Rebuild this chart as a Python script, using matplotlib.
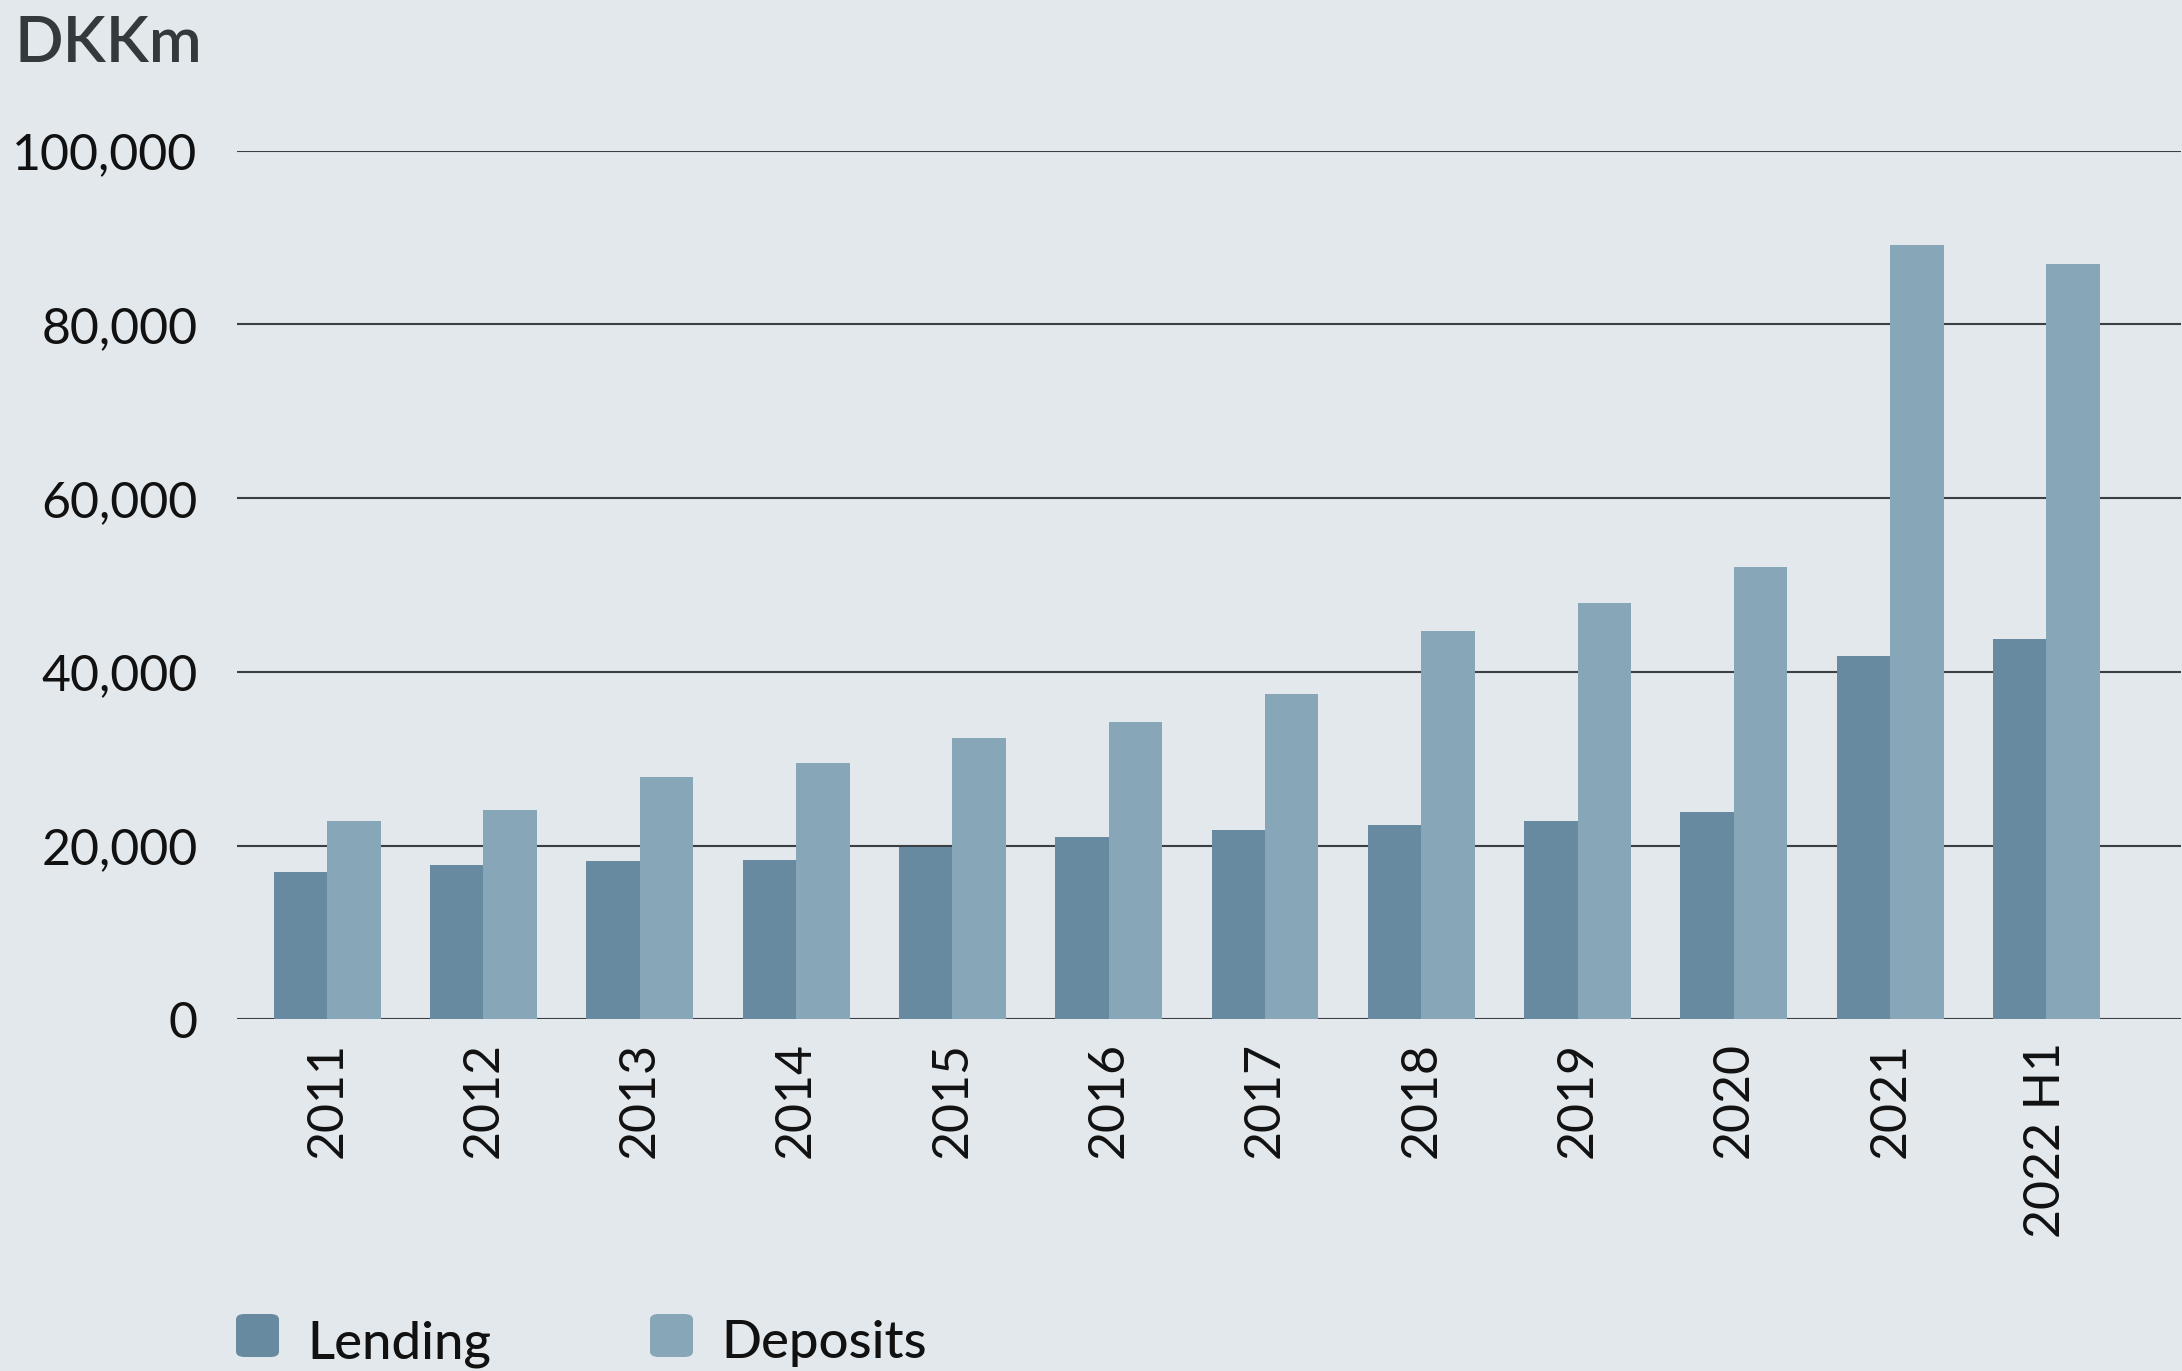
import numpy as np
import matplotlib
matplotlib.use("Agg")
from matplotlib import pyplot as plt
from matplotlib.patches import FancyBboxPatch

# data (DKKm)
years = ["2011", "2012", "2013", "2014", "2015", "2016", "2017", "2018", "2019", "2020", "2021", "2022 H1"]
lending = [17000, 17800, 18200, 18400, 19900, 21000, 21800, 22400, 22900, 23900, 41800, 43800]
deposits = [22900, 24100, 27900, 29500, 32400, 34200, 37500, 44700, 47900, 52100, 89200, 86900]
y_ticks = [0, 20000, 40000, 60000, 80000, 100000]

bg = "#e3e8ec"
c_lend = "#678aa0"
c_dep = "#87a6b8"
grid_c = "#3a3f44"

plt.rcParams["font.family"] = ["Lato", "DejaVu Sans"]

fig = plt.figure(figsize=(21.82, 13.71), dpi=100, facecolor=bg)
ax = fig.add_axes([0.1084, 0.2564, 0.8911, 0.6337], facecolor=bg)

x = np.arange(len(years))
w = 0.342
ax.bar(x - w / 2, lending, width=w, color=c_lend, zorder=3, label="Lending")
ax.bar(x + w / 2, deposits, width=w, color=c_dep, zorder=3, label="Deposits")

ax.set_xlim(-0.58, len(years) - 1 + 0.86)
ax.set_ylim(0, 100000)
ax.set_yticks(y_ticks)
ax.set_yticklabels([f"{v:,}" for v in y_ticks], fontsize=36, fontweight="normal", color="#111111")
ax.set_xticks(x)
ax.set_xticklabels(years, rotation=90, fontsize=36, fontweight="normal", color="#111111", va="top")
ax.tick_params(axis="y", length=0, pad=28)
ax.tick_params(axis="x", length=0, pad=16)

ax.yaxis.grid(True, color=grid_c, linewidth=1.5, zorder=1)
ax.xaxis.grid(False)
for s in ax.spines.values():
    s.set_visible(False)
ax.set_axisbelow(True)

# unit label
fig.text(15 / 2182, 1 - 62 / 1371, "DKKm", fontsize=46, fontweight="semibold", color="#333a3b", ha="left", va="baseline")

# legend built by hand: rounded squares plus text
items = [("Lending", c_lend, 236, 307), ("Deposits", c_dep, 650, 721)]
for name, col, bx, tx in items:
    box = FancyBboxPatch((bx / 2182, 1 - 1357 / 1371), 43 / 2182, 43 / 1371,
                         boxstyle="round,pad=0,rounding_size=0.004",
                         transform=fig.transFigure, facecolor=col, edgecolor="none")
    fig.patches.append(box)
    fig.text(tx / 2182, 1 - 1358 / 1371, name, fontsize=38, fontweight="medium", color="#111111", ha="left", va="baseline")

fig.savefig("out.png", dpi=100, facecolor=bg)
